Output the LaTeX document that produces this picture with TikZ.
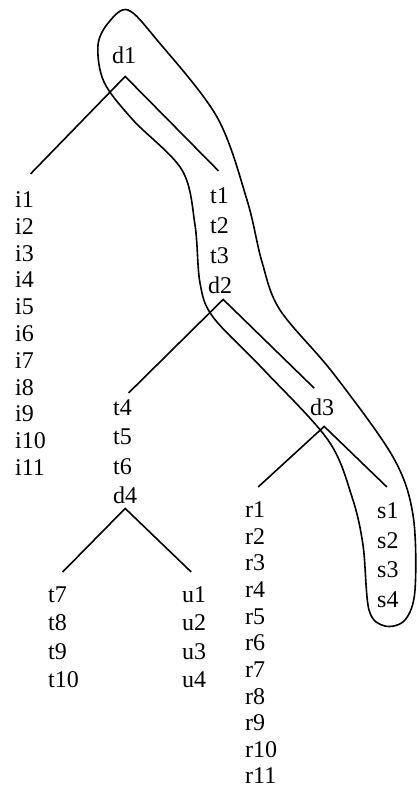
\documentclass[tikz,border=0pt]{standalone}
\usepackage{fontspec}
\setmainfont{Liberation Serif}
\usepackage{tikz}
\usetikzlibrary{calc}

\begin{document}
\begin{tikzpicture}[x=1pt, y=-1pt]
    % Define styles
    \tikzstyle{leaf} = [anchor=base west, inner sep=0pt, font=\fontsize{24}{28}\selectfont]
    \tikzstyle{branch} = [draw, line width=1.6pt]
    \tikzstyle{hull} = [draw, line width=1.6pt, line join=round]

    \useasboundingbox (0,0) rectangle (416,787);

    % Root
    \node[leaf] (d1) at (112,63) {d1};

    % Left column under d1
    \node[leaf] (i1) at (15,207) {i1};
    \node[leaf] (i2) at (15,234) {i2};
    \node[leaf] (i3) at (15,261) {i3};
    \node[leaf] (i4) at (15,287) {i4};
    \node[leaf] (i5) at (15,314) {i5};
    \node[leaf] (i6) at (15,341) {i6};
    \node[leaf] (i7) at (15,368) {i7};
    \node[leaf] (i8) at (15,395) {i8};
    \node[leaf] (i9) at (15,421) {i9};
    \node[leaf] (i10) at (15,448) {i10};
    \node[leaf] (i11) at (15,475) {i11};

    % Right column under d1
    \node[leaf] (t1) at (210,203) {t1};
    \node[leaf] (t2) at (210,233) {t2};
    \node[leaf] (t3) at (210,263) {t3};
    \node[leaf] (d2) at (208,293) {d2};

    % Left column under d2
    \node[leaf] (t4) at (113,415) {t4};
    \node[leaf] (t5) at (113,444) {t5};
    \node[leaf] (t6) at (113,474) {t6};
    \node[leaf] (d4) at (113,503) {d4};

    % Right child of d2
    \node[leaf] (d3) at (310,415) {d3};

    % Children of d3
    \node[leaf] (r1) at (245,517) {r1};
    \node[leaf] (r2) at (245,544) {r2};
    \node[leaf] (r3) at (245,570) {r3};
    \node[leaf] (r4) at (245,597) {r4};
    \node[leaf] (r5) at (245,624) {r5};
    \node[leaf] (r6) at (245,650) {r6};
    \node[leaf] (r7) at (245,677) {r7};
    \node[leaf] (r8) at (245,704) {r8};
    \node[leaf] (r9) at (245,730) {r9};
    \node[leaf] (r10) at (245,757) {r10};
    \node[leaf] (r11) at (245,783) {r11};

    \node[leaf] (s1) at (377,518) {s1};
    \node[leaf] (s2) at (377,548) {s2};
    \node[leaf] (s3) at (377,577) {s3};
    \node[leaf] (s4) at (377,607) {s4};

    % Children of d4
    \node[leaf] (t7) at (48,602) {t7};
    \node[leaf] (t8) at (48,630) {t8};
    \node[leaf] (t9) at (48,659) {t9};
    \node[leaf] (t10) at (48,687) {t10};

    \node[leaf] (u1) at (182,602) {u1};
    \node[leaf] (u2) at (182,630) {u2};
    \node[leaf] (u3) at (182,659) {u3};
    \node[leaf] (u4) at (182,687) {u4};

    % Branches (shift given in pixels, y pointing down)
    \draw[branch] ([shift={(6,-17)}]i1.north) -- ([shift={(1,13)}]d1.south) -- ([shift={(-1,-16)}]t1.north);
    \draw[branch] ([shift={(6,-6)}]t4.north) -- ([shift={(3,6)}]d2.south) -- ([shift={(-8,-10)}]d3.north);
    \draw[branch] ([shift={(3,-14)}]r1.north) -- ([shift={(2,11)}]d3.south) -- ([shift={(-1,-15)}]s1.north);
    \draw[branch] ([shift={(5,-14)}]t7.north) -- ([shift={(0,5)}]d4.south) -- ([shift={(-3,-14)}]u1.north);

    % Outline round the path d1 - d2 - d3 - s
    \draw[hull] plot[smooth cycle, tension=0.55] coordinates {
        (128,10) (157,40) (217,117) (247,200) (262,262) (280,310)
        (333,373) (393,457) (413,515) (415,590) (405,620) (385,626)
        (369,610) (363,545) (352,497) (328,440) (262,368) (213,317)
        (200,283) (195,225) (182,170) (133,120) (104,82) (98,45) (109,22)};

\end{tikzpicture}
\end{document}
